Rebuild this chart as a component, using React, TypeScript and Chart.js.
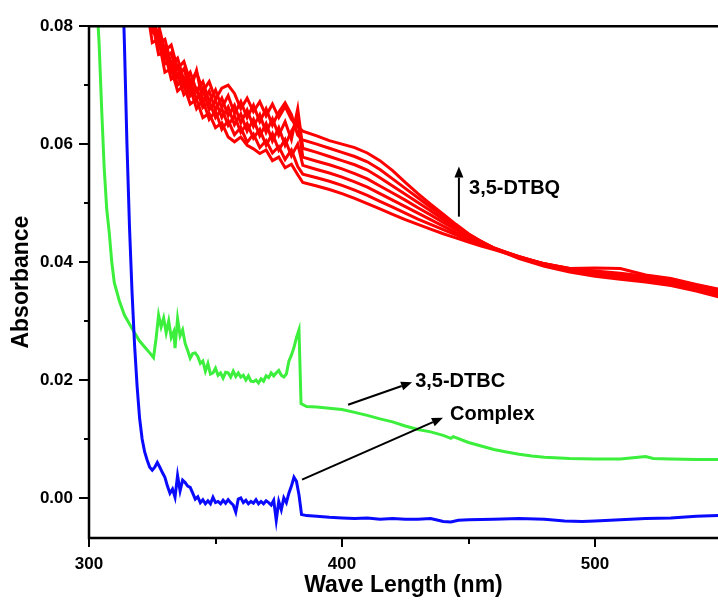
import React, { useEffect, useRef } from 'react';
import { Chart, registerables } from 'chart.js';

Chart.register(...registerables);

const FONT = '"Liberation Sans", Arial, Helvetica, sans-serif';

// ---- axis ticks ----
const xMajorTicks = [300, 400, 500];
const xMinorTicks = [350, 450];
const yMajorTicks = [0, 0.02, 0.04, 0.06, 0.08];
const yMinorTicks = [0.01, 0.03, 0.05, 0.07];

// ---- red spectra (3,5-DTBQ growth), shared wavelength grid ----
const redWavelengths = [320, 322.5, 325, 327.5, 330, 332.5, 335, 337.5, 340, 342.5, 345, 347.5, 350, 352.5, 355, 357.5, 360, 362.5, 365, 367.5, 370, 372.5, 375, 377.5, 380, 382.5, 384.5, 390, 395, 400, 405, 410, 415, 420, 425, 430, 435, 440, 445, 450, 455, 460, 470, 480, 490, 500, 510, 520, 530, 540, 549];

const red1 = [0.088, 0.0845, 0.0772, 0.0778, 0.0722, 0.0728, 0.0690, 0.0700, 0.0668, 0.0676, 0.0645, 0.0652, 0.0628, 0.0636, 0.0612, 0.0604, 0.0612, 0.0598, 0.0592, 0.0584, 0.0590, 0.0572, 0.0578, 0.0560, 0.0566, 0.0548,
  0.0535, 0.0529, 0.0523, 0.0516, 0.0508, 0.0499, 0.0490, 0.0481, 0.0472, 0.0464, 0.0456, 0.0448, 0.0441, 0.0434, 0.0427, 0.0421, 0.0408, 0.0397, 0.0389, 0.0385, 0.0381, 0.0376, 0.0370, 0.0361, 0.0353];
const red2 = [0.0890, 0.0825, 0.0808, 0.0752, 0.0755, 0.0710, 0.0718, 0.0684, 0.0695, 0.0660, 0.0675, 0.0642, 0.0656, 0.0625, 0.0640, 0.0616, 0.0628, 0.0603, 0.0617, 0.0594, 0.0606, 0.0585, 0.0596, 0.0574, 0.0590, 0.0562,
  0.0549, 0.0543, 0.0537, 0.0530, 0.0522, 0.0513, 0.0503, 0.0493, 0.0483, 0.0473, 0.0464, 0.0455, 0.0446, 0.0437, 0.0429, 0.0422, 0.0409, 0.0397, 0.0389, 0.0390, 0.0389, 0.0378, 0.0372, 0.0362, 0.0354];
const red3 = [0.0905, 0.0850, 0.0790, 0.0782, 0.0736, 0.0740, 0.0700, 0.0712, 0.0682, 0.0694, 0.0662, 0.0672, 0.0645, 0.0660, 0.0632, 0.0648, 0.0620, 0.0635, 0.0610, 0.0625, 0.0598, 0.0618, 0.0590, 0.0608, 0.0580, 0.0600,
  0.0564, 0.0557, 0.0551, 0.0544, 0.0536, 0.0527, 0.0516, 0.0505, 0.0494, 0.0483, 0.0472, 0.0461, 0.0450, 0.0440, 0.0431, 0.0423, 0.0409, 0.0397, 0.0388, 0.0383, 0.0379, 0.0374, 0.0368, 0.0359, 0.0351];
const red4 = [0.0912, 0.0838, 0.0818, 0.0765, 0.0765, 0.0722, 0.0732, 0.0698, 0.0708, 0.0676, 0.0692, 0.0658, 0.0674, 0.0645, 0.0663, 0.0633, 0.0651, 0.0622, 0.0642, 0.0614, 0.0635, 0.0605, 0.0628, 0.0598, 0.0622, 0.0640,
  0.0578, 0.0571, 0.0565, 0.0558, 0.0550, 0.0541, 0.0529, 0.0517, 0.0505, 0.0492, 0.0480, 0.0467, 0.0455, 0.0443, 0.0433, 0.0424, 0.0409, 0.0396, 0.0387, 0.0381, 0.0377, 0.0372, 0.0366, 0.0357, 0.0349];
const red5 = [0.0930, 0.0868, 0.0798, 0.0792, 0.0746, 0.0755, 0.0714, 0.0728, 0.0692, 0.0725, 0.0672, 0.0690, 0.0658, 0.0678, 0.0648, 0.0666, 0.0636, 0.0658, 0.0630, 0.0650, 0.0620, 0.0643, 0.0615, 0.0638, 0.0608, 0.0660,
  0.0593, 0.0586, 0.0579, 0.0572, 0.0565, 0.0556, 0.0543, 0.0529, 0.0515, 0.0501, 0.0487, 0.0472, 0.0458, 0.0445, 0.0434, 0.0424, 0.0408, 0.0395, 0.0386, 0.0380, 0.0375, 0.0370, 0.0364, 0.0355, 0.0346];
const red6 = [0.0940, 0.0852, 0.0828, 0.0772, 0.0778, 0.0735, 0.0746, 0.0708, 0.0722, 0.0690, 0.0706, 0.0672, 0.0692, 0.0662, 0.0682, 0.0652, 0.0672, 0.0645, 0.0666, 0.0638, 0.0660, 0.0632, 0.0654, 0.0670, 0.0650, 0.0615,
  0.0607, 0.0600, 0.0593, 0.0586, 0.0579, 0.0570, 0.0557, 0.0541, 0.0525, 0.0509, 0.0493, 0.0477, 0.0461, 0.0447, 0.0435, 0.0424, 0.0407, 0.0394, 0.0385, 0.0378, 0.0373, 0.0368, 0.0362, 0.0353, 0.0344];
const red7 = [0.0955, 0.0880, 0.0808, 0.0802, 0.0758, 0.0768, 0.0728, 0.0740, 0.0706, 0.0722, 0.0690, 0.0706, 0.0676, 0.0695, 0.0700, 0.0686, 0.0660, 0.0678, 0.0655, 0.0672, 0.0648, 0.0668, 0.0645, 0.0664, 0.0642, 0.0630,
  0.0622, 0.0614, 0.0606, 0.0600, 0.0594, 0.0585, 0.0572, 0.0555, 0.0535, 0.0516, 0.0498, 0.0481, 0.0464, 0.0448, 0.0435, 0.0423, 0.0406, 0.0393, 0.0383, 0.0376, 0.0371, 0.0366, 0.0360, 0.0351, 0.0341];
const redSeries = [red1, red2, red3, red4, red5, red6, red7];

// ---- green spectrum (3,5-DTBC): [wavelength, absorbance] ----
const greenSpectrum: [number, number][] = [
  [303, 0.085], [304, 0.077], [305, 0.066], [306, 0.056], [307, 0.049], [308, 0.045], [309, 0.040], [310, 0.0365],
  [312, 0.0334], [314, 0.031], [316, 0.0295], [318, 0.028], [320, 0.0266], [322, 0.0256], [324, 0.0246],
  [325.5, 0.0238], [326.5, 0.0270], [327.5, 0.0310], [328.5, 0.0290], [329.5, 0.0305], [330.5, 0.0280], [331.5, 0.0300], [332.5, 0.0272], [333.5, 0.0282],
  [334, 0.0254], [335, 0.0304], [336, 0.0275], [337, 0.0285], [338, 0.0262], [339, 0.0250], [340, 0.0237], [341, 0.0245], [342, 0.0246], [343, 0.0240],
  [344, 0.0228], [345, 0.0232], [346, 0.0215], [347, 0.0228], [348, 0.0210], [349, 0.0212], [350, 0.0220], [351, 0.0208], [352, 0.0212], [353, 0.0203],
  [354, 0.0213], [355, 0.0212], [356, 0.0205], [357, 0.0215], [358, 0.0206], [359, 0.0212], [360, 0.0205], [361, 0.0208], [362, 0.0200], [363, 0.0207],
  [364, 0.0198], [365, 0.0197], [366, 0.0200], [367, 0.0195], [368, 0.0202], [369, 0.0198], [370, 0.0207], [371, 0.0204], [372, 0.0212], [373, 0.0207],
  [374, 0.0212], [375, 0.0216], [376, 0.0208], [377, 0.0205], [378, 0.0210], [379, 0.0232], [380, 0.0242], [381, 0.0255], [382, 0.0272], [383, 0.0285],
  [383.8, 0.0160], [386, 0.0155], [390, 0.0154], [395, 0.0152], [400, 0.0150], [405, 0.0145], [410, 0.0140], [415, 0.0134], [420, 0.0129], [425, 0.0122],
  [430, 0.0116], [435, 0.0112], [440, 0.0106], [443, 0.0101], [444, 0.0104], [450, 0.0094], [455, 0.0088], [460, 0.0082], [465, 0.0078], [470, 0.0074],
  [475, 0.0071], [480, 0.0069], [490, 0.0067], [500, 0.0066], [510, 0.0066], [515, 0.0068], [520, 0.0070], [523, 0.0067], [530, 0.0066], [540, 0.0065], [549, 0.0065],
];

// ---- blue spectrum (Complex): [wavelength, absorbance] ----
const blueSpectrum: [number, number][] = [
  [313, 0.092], [314, 0.077], [315, 0.060], [316, 0.046], [317, 0.035], [318, 0.026], [319, 0.019], [320, 0.0135], [321, 0.0100], [322, 0.0078],
  [323, 0.0064], [324, 0.0052], [325, 0.0047], [326, 0.0052], [327, 0.0060], [328, 0.0052], [329, 0.0043], [330, 0.0035], [331, 0.0020], [332, 0.0008],
  [333, 0.0015], [334, 0.0001], [335, 0.0038], [336, 0.0012], [337, 0.0030], [338, 0.0026], [339, 0.0020], [340, 0.0018], [341, 0.0008], [342, -0.0002],
  [343, 0.0002], [344, -0.0008], [345, -0.0003], [346, -0.0010], [347, -0.0005], [348, -0.0010], [349, 0.0001], [350, -0.0008], [351, -0.0006], [352, -0.0010],
  [353, -0.0004], [354, -0.0009], [355, -0.0003], [356, -0.0008], [357, -0.0012], [358, -0.0024], [359, -0.0002], [360, 0.0000], [361, -0.0008], [362, -0.0004],
  [363, -0.0010], [364, -0.0006], [365, -0.0009], [366, -0.0003], [367, -0.0010], [368, -0.0006], [369, -0.0010], [370, -0.0005], [371, -0.0008], [372, -0.0012],
  [373, -0.0004], [374, -0.0038], [375, -0.0006], [376, -0.0020], [377, 0.0000], [378, -0.0008], [379, 0.0008], [380, 0.0020], [381, 0.0035], [382, 0.0028],
  [383, 0.0005], [384, -0.0028], [386, -0.0030], [390, -0.0031], [395, -0.0033], [400, -0.0034], [405, -0.0035], [410, -0.0034], [415, -0.0036], [420, -0.0035],
  [425, -0.0036], [430, -0.0036], [435, -0.0035], [438, -0.0038], [440, -0.0040], [443, -0.0041], [446, -0.0038], [450, -0.0037], [460, -0.0036], [470, -0.0035],
  [480, -0.0036], [488, -0.0039], [495, -0.0040], [500, -0.0039], [510, -0.0037], [520, -0.0035], [530, -0.0034], [540, -0.0031], [549, -0.0030],
];

// ---- annotations (data coordinates) ----
const labels = [
  { text: '3,5-DTBQ', nm: 450.2, abs: 0.0524 },
  { text: '3,5-DTBC', nm: 428.9, abs: 0.0198 },
  { text: 'Complex', nm: 442.7, abs: 0.0141 },
];
const arrows = [
  { from: [446.2, 0.0477], to: [446.2, 0.0562] },
  { from: [402.4, 0.0158], to: [427.7, 0.0196] },
  { from: [384.2, 0.0031], to: [439.9, 0.0136] },
];

const framePlugin = {
  id: 'frameAndNotes',
  afterDraw(chart: any) {
    const { ctx, chartArea: a, scales } = chart;
    const x = scales.x;
    const y = scales.y;
    ctx.save();
    ctx.strokeStyle = '#000';
    ctx.fillStyle = '#000';
    ctx.lineCap = 'butt';
    // frame: top, left, bottom
    ctx.lineWidth = 2.5;
    ctx.beginPath();
    ctx.moveTo(a.right + 2, a.top);
    ctx.lineTo(a.left, a.top);
    ctx.lineTo(a.left, a.bottom);
    ctx.lineTo(a.right + 2, a.bottom);
    ctx.stroke();
    // tick marks
    ctx.lineWidth = 2;
    const seg = (x1: number, y1: number, x2: number, y2: number) => {
      ctx.beginPath();
      ctx.moveTo(x1, y1);
      ctx.lineTo(x2, y2);
      ctx.stroke();
    };
    yMajorTicks.forEach((v) => { const p = Math.round(y.getPixelForValue(v)); seg(a.left - 10, p, a.left, p); });
    yMinorTicks.forEach((v) => { const p = Math.round(y.getPixelForValue(v)); seg(a.left - 5, p, a.left, p); });
    xMajorTicks.forEach((v) => { const p = Math.round(x.getPixelForValue(v)); seg(p, a.bottom, p, a.bottom + 9); });
    xMinorTicks.forEach((v) => { const p = Math.round(x.getPixelForValue(v)); seg(p, a.bottom, p, a.bottom + 6); });
    // arrows
    ctx.lineWidth = 2;
    arrows.forEach((ar) => {
      const x1 = x.getPixelForValue(ar.from[0]);
      const y1 = y.getPixelForValue(ar.from[1]);
      const x2 = x.getPixelForValue(ar.to[0]);
      const y2 = y.getPixelForValue(ar.to[1]);
      const ang = Math.atan2(y2 - y1, x2 - x1);
      const head = 11;
      const half = 4.5;
      const bx = x2 - head * Math.cos(ang);
      const by = y2 - head * Math.sin(ang);
      seg(x1, y1, bx, by);
      ctx.beginPath();
      ctx.moveTo(x2, y2);
      ctx.lineTo(bx + half * Math.sin(ang), by - half * Math.cos(ang));
      ctx.lineTo(bx - half * Math.sin(ang), by + half * Math.cos(ang));
      ctx.closePath();
      ctx.fill();
    });
    // labels
    ctx.font = `bold 20px ${FONT}`;
    ctx.textAlign = 'left';
    ctx.textBaseline = 'middle';
    labels.forEach((l) => {
      ctx.fillText(l.text, x.getPixelForValue(l.nm), y.getPixelForValue(l.abs));
    });
    ctx.restore();
  },
};

export default function App() {
  const ref = useRef<HTMLCanvasElement>(null);
  useEffect(() => {
    const redSets = redSeries.map((vals, k) => ({
      label: `Red ${k + 1}`,
      data: redWavelengths.map((nm, i) => ({ x: nm, y: vals[i] })),
      borderColor: '#ff0000',
      borderWidth: 3,
      pointRadius: 0,
      tension: 0,
    }));
    const chart = new Chart(ref.current as HTMLCanvasElement, {
      type: 'line',
      data: {
        datasets: [
          {
            label: 'Complex',
            data: blueSpectrum.map(([nm, v]) => ({ x: nm, y: v })),
            borderColor: '#0a0aff',
            borderWidth: 3,
            pointRadius: 0,
            tension: 0,
          },
          {
            label: '3,5-DTBC',
            data: greenSpectrum.map(([nm, v]) => ({ x: nm, y: v })),
            borderColor: '#3cef3c',
            borderWidth: 3,
            pointRadius: 0,
            tension: 0,
          },
          ...redSets,
        ],
      },
      options: {
        responsive: false,
        devicePixelRatio: 1,
        animation: false,
        events: [],
        layout: { padding: { top: 24, right: 0, bottom: 0, left: 0 } },
        plugins: { legend: { display: false }, tooltip: { enabled: false } },
        scales: {
          x: {
            type: 'linear',
            min: 300,
            max: 548.6,
            grid: { display: false, drawTicks: false },
            border: { display: false },
            afterBuildTicks: (s: any) => { s.ticks = xMajorTicks.map((v) => ({ value: v })); },
            afterFit: (s: any) => { s.height = 63; },
            ticks: {
              color: '#000',
              padding: 16,
              maxRotation: 0,
              autoSkip: false,
              font: { family: FONT, size: 17, weight: 'bold' },
              callback: (v: any) => String(v),
            },
            title: {
              display: true,
              text: 'Wave Length (nm)',
              color: '#000',
              font: { family: FONT, size: 23, weight: 'bold' },
              padding: { top: 0, bottom: 2 },
            },
          },
          y: {
            type: 'linear',
            min: -0.0068,
            max: 0.08,
            grid: { display: false, drawTicks: false },
            border: { display: false },
            afterBuildTicks: (s: any) => { s.ticks = yMajorTicks.map((v) => ({ value: v })); },
            afterFit: (s: any) => { s.width = 89; },
            ticks: {
              color: '#000',
              padding: 16,
              autoSkip: false,
              font: { family: FONT, size: 17, weight: 'bold' },
              callback: (v: any) => Number(v).toFixed(2),
            },
            title: {
              display: true,
              text: 'Absorbance',
              color: '#000',
              font: { family: FONT, size: 23, weight: 'bold' },
              padding: { top: 8, bottom: 0 },
            },
          },
        },
      },
      plugins: [framePlugin],
    });
    return () => chart.destroy();
  }, []);
  return (
    <div style={{ position: 'absolute', left: 0, top: 0, width: 718, height: 601, background: '#fff' }}>
      <canvas ref={ref} width={718} height={601} style={{ display: 'block', width: 718, height: 601 }} />
    </div>
  );
}
